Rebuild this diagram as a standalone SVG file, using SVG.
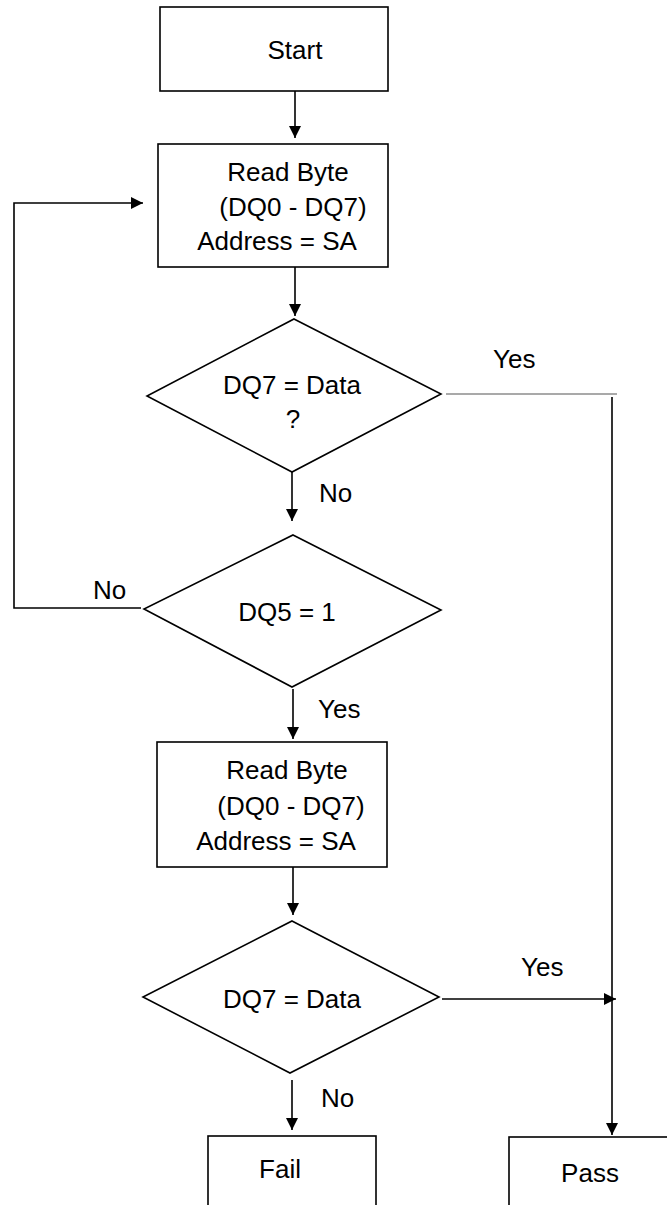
<svg xmlns="http://www.w3.org/2000/svg" width="667" height="1205" viewBox="0 0 667 1205">
<defs>
<marker id="ah" viewBox="0 0 10 10" refX="10" refY="5" markerWidth="12" markerHeight="15" markerUnits="userSpaceOnUse" orient="auto">
<path d="M0,0 L10,5 L0,10 Z" fill="#000"/>
</marker>
<style>
.box{fill:#fff;stroke:#000;stroke-width:1.6}
.t{font-family:"Liberation Sans",Arial,sans-serif;font-size:26px;fill:#000}
.m{text-anchor:middle}
.c{fill:none;stroke:#000;stroke-width:1.6}
.thin{fill:none;stroke:#555;stroke-width:1.2}
</style>
</defs>
<rect width="667" height="1205" fill="#fff"/>
<g id="connectors">
<line class="c" x1="295" y1="91" x2="295" y2="138" marker-end="url(#ah)"/>
<polyline class="c" points="141,608 14,608 14,203 143,203" marker-end="url(#ah)"/>
<line class="c" x1="295" y1="267" x2="295" y2="316" marker-end="url(#ah)"/>
<line class="thin" x1="446" y1="394" x2="617" y2="394"/>
<line class="c" x1="612" y1="397" x2="612" y2="1135" marker-end="url(#ah)"/>
<line class="c" x1="292" y1="472" x2="292" y2="521" marker-end="url(#ah)"/>
<line class="c" x1="293" y1="689" x2="293" y2="739" marker-end="url(#ah)"/>
<line class="c" x1="293" y1="867" x2="293" y2="915" marker-end="url(#ah)"/>
<line class="c" x1="442" y1="999" x2="616" y2="999" marker-end="url(#ah)"/>
<line class="c" x1="292" y1="1080" x2="292" y2="1130" marker-end="url(#ah)"/>
<text class="t" x="493" y="368">Yes</text>
<text class="t" x="319" y="502">No</text>
<text class="t" x="93" y="599">No</text>
<text class="t" x="318" y="718">Yes</text>
<text class="t" x="521" y="976">Yes</text>
<text class="t" x="321" y="1107">No</text>
</g>
<g id="start">
<rect class="box" x="160" y="7" width="228" height="84"/>
<text class="t m" x="295" y="59">Start</text>
</g>
<g id="read1">
<rect class="box" x="158" y="144" width="230" height="123"/>
<text class="t m" x="288" y="181">Read Byte</text>
<text class="t m" x="293" y="216">(DQ0 - DQ7)</text>
<text class="t m" x="277" y="250">Address = SA</text>
</g>
<g id="dec1">
<polygon class="box" points="294,319 441,394 292,472 147,396"/>
<text class="t m" x="292" y="394">DQ7 = Data</text>
<text class="t m" x="293" y="428">?</text>
</g>
<g id="dec2">
<polygon class="box" points="293,535 441,610 292,687 144,609"/>
<text class="t m" x="287" y="621">DQ5 = 1</text>
</g>
<g id="read2">
<rect class="box" x="157" y="742" width="230" height="125"/>
<text class="t m" x="287" y="779">Read Byte</text>
<text class="t m" x="291" y="815">(DQ0 - DQ7)</text>
<text class="t m" x="276" y="850">Address = SA</text>
</g>
<g id="dec3">
<polygon class="box" points="292,921 439,997 290,1073 143,997"/>
<text class="t m" x="292" y="1008">DQ7 = Data</text>
</g>
<g id="fail">
<rect class="box" x="208" y="1136" width="168" height="100"/>
<text class="t m" x="280" y="1178">Fail</text>
</g>
<g id="pass">
<rect class="box" x="509" y="1137" width="180" height="100"/>
<text class="t m" x="590" y="1182">Pass</text>
</g>
</svg>
